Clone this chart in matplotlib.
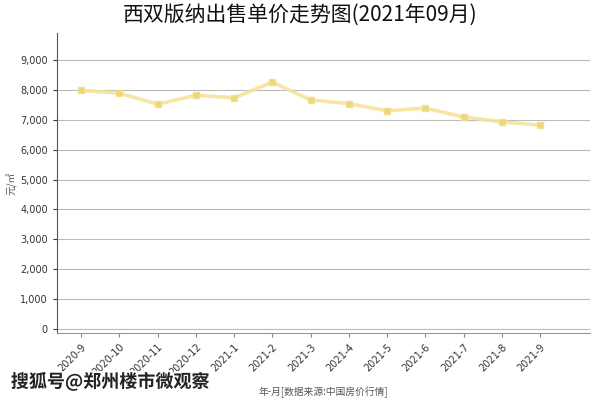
import matplotlib.pyplot as plt
import matplotlib.patheffects as pe
from matplotlib.ticker import FuncFormatter

plt.rcParams['font.family'] = ['Noto Sans CJK SC', 'DejaVu Sans']

months = ["2020-9", "2020-10", "2020-11", "2020-12", "2021-1", "2021-2", "2021-3",
          "2021-4", "2021-5", "2021-6", "2021-7", "2021-8", "2021-9"]
prices = [7980, 7890, 7520, 7820, 7730, 8260, 7660, 7540, 7300, 7390, 7090, 6930, 6820]
y_ticks = [0, 1000, 2000, 3000, 4000, 5000, 6000, 7000, 8000, 9000]

fig = plt.figure(figsize=(6, 4), dpi=100)
ax = fig.add_axes([0.095, 0.1675, 0.888, 0.75])

x = list(range(len(months)))
ax.plot(x, prices, color="#f5e39a", linewidth=2.6, alpha=0.9, zorder=3,
        marker="s", markersize=5, markerfacecolor="#ecd570", markeredgecolor="#f2de88")

ax.set_xlim(-0.63, 13.3)
ax.set_ylim(-130, 9900)
ax.set_yticks(y_ticks)
ax.yaxis.set_major_formatter(FuncFormatter(lambda v, p: f"{int(v):,}"))
ax.set_xticks(x)
ax.set_xticklabels(months, rotation=45, ha="right", rotation_mode="anchor")
ax.tick_params(axis="both", labelsize=7, colors="#333333", length=3)
ax.tick_params(axis="x", colors="#888888", labelcolor="#333333")
for lbl in ax.get_xticklabels() + ax.get_yticklabels():
    lbl.set_family("DejaVu Sans")
ax.grid(axis="y", color="#bbbbbb", linewidth=0.8)
ax.set_axisbelow(True)

for side in ["top", "right"]:
    ax.spines[side].set_visible(False)
ax.spines["left"].set_color("#555555")
ax.spines["bottom"].set_color("#999999")

ax.set_ylabel("元/㎡", fontsize=7, color="#555555", labelpad=2)
ax.set_xlabel("年-月[数据来源:中国房价行情]", fontsize=7, color="#555555", labelpad=6)
fig.text(0.5, 0.963, "西双版纳出售单价走势图(2021年09月)", ha="center", va="center",
         fontsize=15, color="#111111")

fig.text(0.018, 0.045, "搜狐号@郑州楼市微观察", fontsize=13, fontweight="bold",
         color="#222222", ha="left", va="center",
         path_effects=[pe.withStroke(linewidth=2.5, foreground="white")])

fig.savefig("out.png", dpi=100)
